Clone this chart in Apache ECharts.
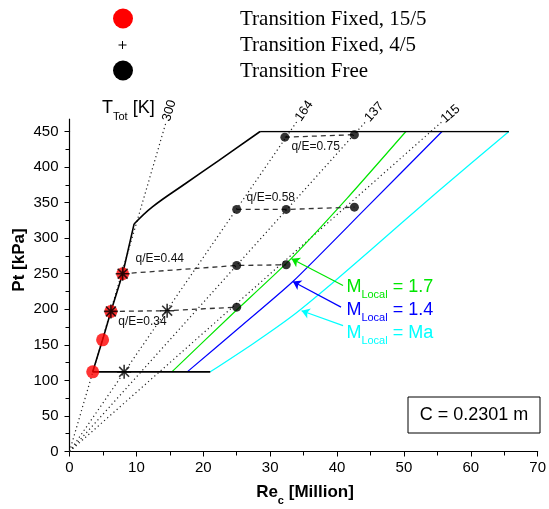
<!DOCTYPE html>
<html><head><meta charset="utf-8">
<script src="https://cdn.jsdelivr.net/npm/echarts@6/dist/echarts.min.js"></script>
<style>html,body{margin:0;padding:0;background:#fff}#c{width:549px;height:509px}</style>
</head><body><div id="c"></div>
<script>
// ---- data (Re_c [Million], Pt [kPa]) ----
const envelopeLower = [[21.05,112],[3.47,112],[4.95,157],[6.19,197],[7.95,250],[9.66,320]];
const envelopeCurve = [[9.66,320],[12.4,344],[17.3,376.5],[22.3,409],[28.5,450]];
const envelopeTop = [[28.5,450],[65.7,450]];
const mLocal17 = [[15.3,112],[24.2,192],[32.8,268],[41.5,356],[50.3,450]];
const mLocal14 = [[17.6,112],[25.5,175],[33.4,239],[44,339],[55.7,450]];
const mLocalMa = [[21.05,112],[27.5,152],[33.5,192],[39.2,236],[45,283],[55,365],[65.7,450]];
const rayTemps = ['300','164','137','115'];
const rayEnds = [[14.4,462],[34.0,464],[44.3,464],[55.6,463]];
const fixed155 = [[3.47,112],[4.95,157],[6.19,197],[7.95,250]];
const fixed45 = [[7.95,250],[6.19,197],[14.6,198],[8.17,112]];
const free = [[32.2,442],[42.6,445.5],[25,340.4],[32.4,340.4],[42.6,343.6],[25,261.6],[32.4,262.6],[25,203]];
const qeNames = ['q/E=0.75','q/E=0.58','q/E=0.44','q/E=0.34'];
const qeLines = [
  [[32.2,442],[42.6,445.5]],
  [[25,340.4],[32.4,340.4],[42.6,343.6]],
  [[7.95,250],[25,261.6],[32.4,262.6]],
  [[6.19,197],[14.6,198],[25,203]]
];
const qeLabelPos = [[36.8,429],[30.1,357],[13.5,271],[10.9,183]];
const mNames = ['1.7','1.4','Ma'];
const mArrows = [
  [[40.9,233.5],[33.2,271]],
  [[40.6,203],[33.4,239]],
  [[40.9,177],[34.7,198]]
];
const xTicks = {min:0, max:70, step:10};
const yTicks = {min:0, max:450, step:50};

// ---- styles ----
const FONT = '"Liberation Sans", Arial, sans-serif';
const SERIF = '"Liberation Serif", "Times New Roman", serif';
const GREEN = '#00e600', BLUE = '#0000ff', CYAN = '#00ffff';
const mColors = [GREEN, BLUE, CYAN];
const ASTER = 'path://M0,-10L0,10M-10,0L10,0M-7.07,-7.07L7.07,7.07M-7.07,7.07L7.07,-7.07';

const chart = echarts.init(document.getElementById('c'), null, {renderer:'canvas'});

const series = [];
rayEnds.forEach(e => series.push({
  type:'line', data:[[0,0], e], symbol:'none', clip:false, silent:true, z:1,
  lineStyle:{color:'#222', width:1.2, type:[1.2,3]}
}));
[mLocal17, mLocal14, mLocalMa].forEach((d,i) => series.push({
  type:'line', data:d, symbol:'none', silent:true, z:2, smooth:0.2,
  lineStyle:{color:mColors[i], width:1.2}
}));
[[envelopeLower,false],[envelopeCurve,0.4],[envelopeTop,false]].forEach(([d,s]) => series.push({
  type:'line', data:d, symbol:'none', silent:true, z:3, smooth:s, lineStyle:{color:'#000', width:1.6}
}));
qeLines.forEach(d => series.push({
  type:'line', data:d, symbol:'none', silent:true, z:3,
  lineStyle:{color:'#333', width:1.3, type:[5,4]}
}));
mArrows.forEach((a,i) => series.push({
  type:'lines', coordinateSystem:'cartesian2d', silent:true, z:4,
  symbol:['none','arrow'], symbolSize:8,
  lineStyle:{color:mColors[i], width:1.2, opacity:1},
  data:[{coords:a}]
}));
series.push({type:'scatter', data:fixed155, symbol:'circle', symbolSize:13, z:5, itemStyle:{color:'#ff0000'}});
series.push({type:'scatter', data:fixed45, symbol:ASTER, symbolSize:14, z:6, itemStyle:{color:'rgba(0,0,0,0)', borderColor:'#000', borderWidth:1.6}});
series.push({type:'scatter', data:free, symbol:'circle', symbolSize:9, z:7, itemStyle:{color:'#000'}});

const axisCommon = {
  type:'value',
  axisLine:{show:true, onZero:false, lineStyle:{color:'#000', width:1.2}},
  axisTick:{show:true, inside:false, length:5, lineStyle:{color:'#000', width:1}},
  minorTick:{show:true, splitNumber:2, length:4, lineStyle:{color:'#000', width:1}},
  splitLine:{show:false}, minorSplitLine:{show:false},
};

chart.setOption({
  animation:false,
  backgroundColor:'#fff',
  grid:{left:69.5, right:8, top:131.5, bottom:57.5, containLabel:false},
  xAxis: Object.assign({}, axisCommon, {min:xTicks.min, max:xTicks.max, interval:xTicks.step,
    axisLabel:{color:'#000', fontSize:15, fontFamily:FONT, margin:9}}),
  yAxis: Object.assign({}, axisCommon, {min:yTicks.min, max:yTicks.max, interval:yTicks.step,
    axisLabel:{color:'#000', fontSize:15, fontFamily:FONT, margin:11}}),
  series
});

const P = (x,y) => chart.convertToPixel({gridIndex:0}, [x,y]);
const g = [];
const txt = (x, y, text, font, fill, align, valign, extra) => Object.assign({
  type:'text', x, y, silent:true, z:100,
  style:{text, font, fill, align, textAlign:align, verticalAlign:valign, textVerticalAlign:valign}
}, extra || {});

// axis line extension above 450
const a0 = P(0,450), a1 = P(0,468);
g.push({type:'line', silent:true, z:50, shape:{x1:a0[0], y1:a0[1], x2:a1[0], y2:a1[1]}, style:{stroke:'#000', lineWidth:1.2}});

// ray labels
rayEnds.forEach((e,i) => {
  const p0 = P(0,0), p1 = P(e[0], e[1]);
  const ang = Math.atan2(p0[1]-p1[1], p1[0]-p0[0]);
  const ux = Math.cos(ang), uy = -Math.sin(ang);
  g.push(txt(p1[0]+ux*2, p1[1]+uy*2, rayTemps[i], '13px '+FONT, '#000', 'left', 'middle', {rotation:ang}));
});

// q/E labels
qeLabelPos.forEach((p,i) => {
  const q = P(p[0], p[1]);
  g.push(txt(q[0], q[1], qeNames[i], '12px '+FONT, '#111', 'center', 'middle'));
});

// M_Local labels
const mTop = [[41.4,244.5],[41.4,212],[41.4,179.5]];
mTop.forEach((p,i) => {
  const q = P(p[0], p[1]);
  const t = txt(q[0], q[1], '{m|M}{s|Local}{m| = ' + mNames[i] + '}', '18px '+FONT, mColors[i], 'left', 'top');
  t.style.rich = {
    m:{fontSize:18, fontFamily:FONT, fill:mColors[i], padding:[0,0,5,0]},
    s:{fontSize:11, fontFamily:FONT, fill:mColors[i], verticalAlign:'bottom'}
  };
  g.push(t);
});

// T_Tot [K]
const tt = txt(102, 99, '{m|T}{s|Tot}{m| [K]}', '18px '+FONT, '#000', 'left', 'top');
tt.style.rich = {m:{fontSize:18, fontFamily:FONT, padding:[0,0,5,0]}, s:{fontSize:11, fontFamily:FONT, verticalAlign:'bottom'}};
g.push(tt);

// axis titles
const xt = txt(305, 484, '{m|Re}{s|c}{m| [Million]}', 'bold 17px '+FONT, '#000', 'center', 'top');
xt.style.rich = {m:{fontSize:17, fontWeight:'bold', fontFamily:FONT, padding:[0,0,5,0]}, s:{fontSize:11, fontWeight:'bold', fontFamily:FONT, verticalAlign:'bottom'}};
g.push(xt);
g.push(txt(19, 260, 'Pt [kPa]', 'bold 17px '+FONT, '#000', 'center', 'middle', {rotation:Math.PI/2}));

// C box
g.push({type:'rect', silent:true, z:90, shape:{x:408, y:397, width:132, height:36}, style:{fill:'#fff', stroke:'#000', lineWidth:1}});
g.push(txt(474, 415.5, 'C = 0.2301 m', '18px '+FONT, '#000', 'center', 'middle'));

// legend
g.push({type:'circle', silent:true, z:90, shape:{cx:123, cy:18.5, r:10}, style:{fill:'#ff0000'}});
g.push({type:'line', silent:true, z:90, shape:{x1:118.5, y1:45, x2:126.5, y2:45}, style:{stroke:'#000', lineWidth:1}});
g.push({type:'line', silent:true, z:90, shape:{x1:122.5, y1:41, x2:122.5, y2:49}, style:{stroke:'#000', lineWidth:1}});
g.push({type:'circle', silent:true, z:90, shape:{cx:123, cy:70.5, r:10}, style:{fill:'#000'}});
const legendNames = ['Transition Fixed, 15/5','Transition Fixed, 4/5','Transition Free'];
[19,45,71].forEach((y,i) => g.push(txt(240, y, legendNames[i], '21px '+SERIF, '#000', 'left', 'middle')));

chart.setOption({graphic:{elements:g}});
</script></body></html>
